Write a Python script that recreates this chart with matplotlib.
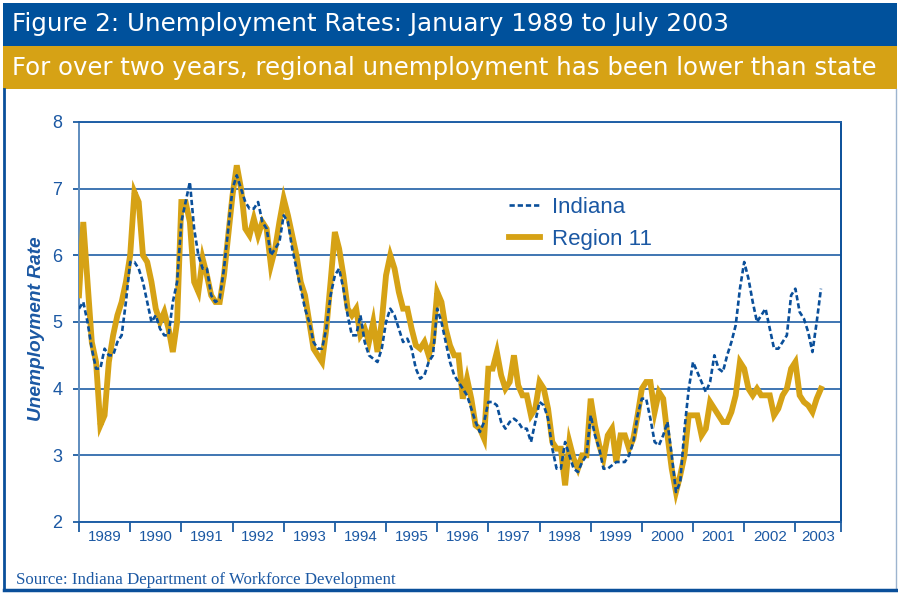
import matplotlib
matplotlib.use("Agg")
import matplotlib.pyplot as plt
from matplotlib.patches import Rectangle
from matplotlib.lines import Line2D

# data: monthly unemployment rates, Jan 1989 .. Jul 2003
years = [str(y) for y in range(1989, 2004)]

indiana = [
    5.2, 5.3, 5.0, 4.6, 4.3, 4.3, 4.6, 4.5, 4.5, 4.7, 4.8, 5.3,      # 1989
    5.9, 5.9, 5.8, 5.6, 5.3, 5.0, 5.1, 4.9, 4.8, 4.8, 5.3, 5.6,      # 1990
    6.5, 6.8, 7.1, 6.4, 6.0, 5.8, 5.8, 5.4, 5.3, 5.35, 5.8, 6.4,     # 1991
    7.0, 7.2, 7.0, 6.8, 6.7, 6.7, 6.8, 6.5, 6.4, 6.0, 6.1, 6.2,      # 1992
    6.6, 6.5, 6.1, 5.8, 5.5, 5.2, 5.0, 4.7, 4.6, 4.6, 4.9, 5.4,      # 1993
    5.7, 5.8, 5.5, 5.1, 4.8, 4.8, 5.1, 4.7, 4.5, 4.45, 4.4, 4.6,     # 1994
    5.0, 5.2, 5.1, 4.9, 4.7, 4.75, 4.6, 4.3, 4.15, 4.2, 4.4, 4.5,    # 1995
    5.2, 5.0, 4.7, 4.4, 4.2, 4.1, 4.0, 3.9, 3.7, 3.5, 3.35, 3.5,     # 1996
    3.8, 3.8, 3.75, 3.5, 3.4, 3.5, 3.55, 3.5, 3.4, 3.4, 3.2, 3.5,    # 1997
    3.8, 3.75, 3.55, 3.1, 2.8, 2.8, 3.2, 3.0, 2.8, 2.75, 2.9, 3.0,   # 1998
    3.6, 3.3, 3.1, 2.8, 2.8, 2.85, 2.9, 2.9, 2.9, 3.0, 3.2, 3.6,     # 1999
    3.85, 3.85, 3.55, 3.2, 3.15, 3.3, 3.5, 3.0, 2.45, 2.6, 3.4, 4.0, # 2000
    4.4, 4.25, 4.1, 3.95, 4.1, 4.5, 4.3, 4.25, 4.5, 4.7, 4.95, 5.5,  # 2001
    5.9, 5.65, 5.3, 5.0, 5.1, 5.2, 4.9, 4.6, 4.6, 4.7, 4.8, 5.4,     # 2002
    5.5, 5.15, 5.05, 4.85, 4.55, 5.0, 5.5,                           # 2003
]

region11 = [
    5.4, 6.5, 5.6, 4.7, 4.4, 3.45, 3.6, 4.4, 4.8, 5.1, 5.3, 5.6,     # 1989
    6.0, 6.95, 6.8, 6.0, 5.9, 5.6, 5.2, 5.0, 5.15, 4.9, 4.55, 5.0,   # 1990
    6.8, 6.8, 6.5, 5.6, 5.45, 5.95, 5.7, 5.4, 5.3, 5.3, 5.7, 6.3,    # 1991
    6.9, 7.35, 7.0, 6.4, 6.3, 6.55, 6.3, 6.5, 6.4, 5.85, 6.1, 6.5,   # 1992
    6.85, 6.6, 6.3, 6.0, 5.6, 5.4, 5.0, 4.6, 4.5, 4.4, 4.9, 5.6,     # 1993
    6.35, 6.1, 5.7, 5.2, 5.1, 5.2, 4.8, 4.9, 4.7, 5.0, 4.55, 5.0,    # 1994
    5.7, 6.0, 5.8, 5.45, 5.2, 5.2, 4.9, 4.65, 4.6, 4.7, 4.5, 4.7,    # 1995
    5.45, 5.3, 4.9, 4.65, 4.5, 4.5, 3.85, 4.15, 3.85, 3.45, 3.4, 3.25,  # 1996
    4.3, 4.3, 4.55, 4.2, 4.0, 4.1, 4.5, 4.05, 3.9, 3.9, 3.6, 3.7,    # 1997
    4.1, 4.0, 3.7, 3.2, 3.1, 3.1, 2.55, 3.2, 2.95, 2.8, 3.0, 3.0,    # 1998
    3.85, 3.45, 3.15, 2.95, 3.3, 3.4, 2.9, 3.3, 3.3, 3.1, 3.25, 3.6, # 1999
    4.0, 4.1, 4.1, 3.65, 3.95, 3.85, 3.3, 2.8, 2.45, 2.7, 3.0, 3.6,  # 2000
    3.6, 3.6, 3.3, 3.4, 3.8, 3.7, 3.6, 3.5, 3.5, 3.65, 3.9, 4.4,     # 2001
    4.3, 4.0, 3.9, 4.0, 3.9, 3.9, 3.9, 3.6, 3.7, 3.9, 4.0, 4.3,      # 2002
    4.4, 3.9, 3.8, 3.75, 3.65, 3.85, 4.0,                            # 2003
]

BLUE = "#0A4F9A"
BAR_BLUE = "#00519C"
GOLD = "#D6A215"
TXT = "#1B58A3"

W, H = 898, 593
fig = plt.figure(figsize=(W / 100, H / 100), dpi=100)

# header bars
fig.add_artist(Rectangle((3 / W, 1 - 46 / H), 894 / W, 43 / H, transform=fig.transFigure,
                         facecolor=BAR_BLUE, edgecolor="none"))
fig.add_artist(Rectangle((3 / W, 1 - 89 / H), 894 / W, 43 / H, transform=fig.transFigure,
                         facecolor=GOLD, edgecolor="none"))
fig.text(12 / W, 1 - 24 / H, "Figure 2: Unemployment Rates: January 1989 to July 2003",
         color="white", fontsize=17.7, family="DejaVu Sans", va="center", ha="left")
fig.text(12 / W, 1 - 68 / H, "For over two years, regional unemployment has been lower than state",
         color="white", fontsize=17.6, family="DejaVu Sans", va="center", ha="left")

# outer border
fig.add_artist(Line2D([4 / W, 4 / W], [1 - 89 / H, 1 - 590 / H], transform=fig.transFigure,
                      color=BLUE, lw=2))
fig.add_artist(Line2D([896 / W, 896 / W], [1 - 89 / H, 1 - 590 / H], transform=fig.transFigure,
                      color="#9DB4CF", lw=1))
fig.add_artist(Line2D([4 / W, 896 / W], [1 - 589.5 / H, 1 - 589.5 / H], transform=fig.transFigure,
                      color=BLUE, lw=2.5))

ax = fig.add_axes([79 / W, 1 - 522 / H, 762 / W, 400 / H])
months = list(range(len(indiana)))
ax.plot(months, region11, color=GOLD, lw=4.2, solid_joinstyle="miter", zorder=3)
ax.plot(months, indiana, color=BLUE, lw=1.9, dashes=(2.0, 1.1), zorder=4)

xmax = 178.7
ax.set_xlim(0, xmax)
ax.set_ylim(2, 8)
ax.set_yticks(range(2, 9))
ax.yaxis.grid(True, color="#1F5FA6", lw=1.2)
ax.set_axisbelow(True)

# year boundaries as major ticks, labels centred between them
bounds = [12 * i for i in range(len(years))] + [xmax]
ax.set_xticks(bounds)
ax.set_xticklabels([])
mids = [(bounds[i] + bounds[i + 1]) / 2 for i in range(len(years))]
ax.set_xticks(mids, minor=True)
ax.set_xticklabels(years, minor=True)
ax.tick_params(axis="x", which="major", length=7, width=1.2, color=BLUE, direction="out")
ax.tick_params(axis="x", which="minor", length=0, labelsize=10.9, labelcolor=TXT, pad=6)
ax.tick_params(axis="y", length=4, width=1.2, color=BLUE, labelsize=13, labelcolor=TXT, pad=8)
for lab in ax.get_xticklabels(minor=True) + ax.get_yticklabels():
    lab.set_family("Liberation Sans")

for side in ["top", "bottom"]:
    ax.spines[side].set_color("#1F5FA6")
    ax.spines[side].set_linewidth(1.4)
ax.spines["left"].set_color("#5E8CBE")
ax.spines["left"].set_linewidth(1.4)
ax.spines["right"].set_color(BLUE)
ax.spines["right"].set_linewidth(1.4)

fig.text(37 / W, 1 - 329 / H, "Unemployment Rate", rotation=90, color=TXT, fontsize=13.8,
         family="Liberation Sans", weight="bold", style="italic", ha="center", va="center")

h_ind = Line2D([], [], color=BLUE, lw=1.9, dashes=(2.0, 1.1))
h_reg = Line2D([], [], color=GOLD, lw=4.2)
leg = ax.legend([h_ind, h_reg], ["Indiana", "Region 11"], loc="upper left",
                bbox_to_anchor=((509 - 79) / 762, (522 - 197) / 400), frameon=False,
                prop={"family": "Liberation Sans", "size": 16}, handlelength=1.4,
                handletextpad=0.55, labelspacing=0.5, borderpad=0, borderaxespad=0)
for t in leg.get_texts():
    t.set_color(TXT)

fig.text(16 / W, 1 - 580 / H, "Source: Indiana Department of Workforce Development",
         color=TXT, fontsize=12.2, family="Liberation Serif", ha="left", va="center")

fig.savefig("out.png", dpi=100)
